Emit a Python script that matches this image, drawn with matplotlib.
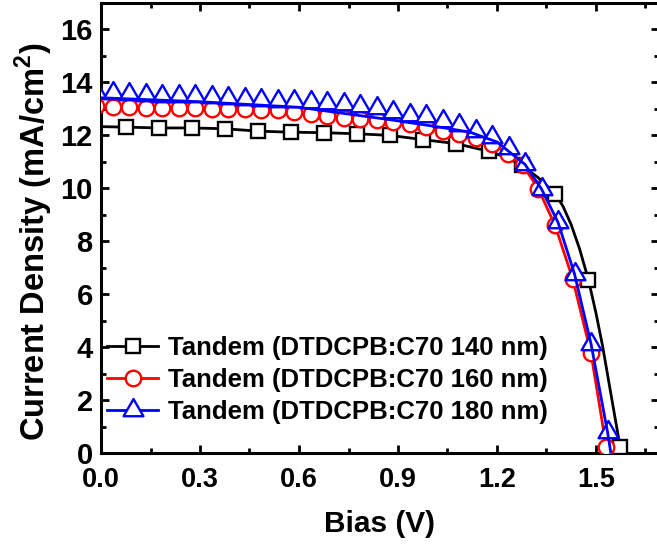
import numpy as np
import matplotlib
matplotlib.use("Agg")
import matplotlib.pyplot as plt
from matplotlib.path import Path
from matplotlib.lines import Line2D

plt.rcParams['font.family'] = ['Liberation Sans', 'DejaVu Sans']
plt.rcParams['font.weight'] = 'bold'
plt.rcParams['mathtext.fontset'] = 'custom'
plt.rcParams['mathtext.rm'] = 'Liberation Sans:bold'
plt.rcParams['mathtext.bf'] = 'Liberation Sans:bold'

labels = ["Tandem (DTDCPB:C70 140 nm)",
          "Tandem (DTDCPB:C70 160 nm)",
          "Tandem (DTDCPB:C70 180 nm)"]

# 140 nm (black) - markers
v140_m = [0.075, 0.175, 0.275, 0.375, 0.475, 0.575, 0.675, 0.775, 0.875, 0.975,
          1.075, 1.175, 1.275, 1.376, 1.477, 1.573]
j140_m = [12.31, 12.28, 12.28, 12.25, 12.16, 12.12, 12.10, 12.06, 12.00, 11.84,
          11.69, 11.40, 10.87, 9.80, 6.55, 0.24]
# 140 nm - line
v140_l = [0.0, 0.075, 0.175, 0.275, 0.375, 0.475, 0.575, 0.675, 0.775, 0.875, 0.975,
          1.075, 1.175, 1.225, 1.275, 1.325, 1.376, 1.40, 1.425, 1.45, 1.477, 1.50,
          1.52, 1.547, 1.573, 1.577]
j140_l = [12.33, 12.31, 12.28, 12.28, 12.25, 12.16, 12.12, 12.10, 12.06, 12.00, 11.84,
          11.69, 11.40, 11.18, 10.87, 10.40, 9.80, 9.32, 8.62, 7.72, 6.55, 5.28,
          4.04, 2.10, 0.24, 0.0]

# 160 nm (red)
v160 = [-0.015, 0.035, 0.085, 0.135, 0.185, 0.235, 0.285, 0.335, 0.385, 0.435,
        0.485, 0.535, 0.585, 0.635, 0.685, 0.735, 0.785, 0.835, 0.885, 0.935,
        0.985, 1.035, 1.085, 1.135, 1.185, 1.232, 1.278, 1.325, 1.376, 1.429,
        1.485, 1.531]
j160 = [13.10, 13.08, 13.08, 13.05, 13.04, 13.04, 13.03, 13.00, 13.00, 12.98,
        12.96, 12.94, 12.90, 12.82, 12.72, 12.67, 12.63, 12.58, 12.50, 12.42,
        12.31, 12.18, 12.05, 11.90, 11.68, 11.30, 10.87, 9.99, 8.60, 6.59,
        3.76, 0.24]

# 180 nm (blue) - markers
v180_m = [-0.015, 0.035, 0.085, 0.135, 0.185, 0.235, 0.285, 0.335, 0.385, 0.435,
          0.485, 0.535, 0.585, 0.635, 0.685, 0.735, 0.785, 0.835, 0.885, 0.935,
          0.985, 1.035, 1.085, 1.135, 1.185, 1.235, 1.285, 1.335, 1.385, 1.435,
          1.485, 1.535]
j180_m = [13.62, 13.60, 13.57, 13.53, 13.50, 13.48, 13.47, 13.44, 13.40, 13.38,
          13.35, 13.31, 13.29, 13.26, 13.22, 13.17, 13.11, 13.03, 12.90, 12.77,
          12.72, 12.55, 12.40, 12.16, 11.93, 11.52, 10.90, 9.97, 8.71, 6.76,
          4.12, 0.79]
# 180 nm - line
v180_l = [0.0, 0.3, 0.6, 0.876, 1.027, 1.118, 1.20, 1.285, 1.335, 1.385, 1.435,
          1.485, 1.535, 1.545]
j180_l = [13.42, 13.27, 13.06, 12.59, 12.31, 12.12, 11.75, 10.90, 9.97, 8.71, 6.76,
          4.12, 0.79, 0.0]

W, H = 657, 548
fig = plt.figure(figsize=(W / 100, H / 100), dpi=100)
xmax = 1.69
ax = fig.add_axes([101 / W, 95 / H, 330 * xmax / W, 450 / H])

# triangle with centroid at origin
tri = Path([(0, 2 / 3), (-0.577, -1 / 3), (0.577, -1 / 3), (0, 2 / 3)],
           [Path.MOVETO, Path.LINETO, Path.LINETO, Path.CLOSEPOLY])

lw = 2.0
mew = 1.7
styles = [dict(color='black', marker='s', ms=9.5),
          dict(color='red', marker='o', ms=11.2),
          dict(color='blue', marker=tri, ms=16.5)]

ax.plot(v140_l, j140_l, '-', color='black', lw=lw, zorder=2)
ax.plot(v140_m, j140_m, ls='none', marker='s', ms=9.5, mfc='white', mec='black', mew=mew, zorder=3)
ax.plot(v160, j160, '-', color='red', lw=lw, zorder=2)
ax.plot(v160, j160, ls='none', marker='o', ms=11.2, mfc='white', mec='red', mew=mew, zorder=3)
ax.plot(v180_l, j180_l, '-', color='blue', lw=lw, zorder=4)
ax.plot(v180_m, j180_m, ls='none', marker=tri, ms=16.5, mfc='white', mec='blue', mew=mew, zorder=3.5)

ax.set_xlim(0, xmax)
ax.set_ylim(0, 17)
ax.set_xticks(np.arange(0, 1.51, 0.3))
ax.set_xticks(np.arange(0.15, 1.69, 0.3), minor=True)
ax.set_yticks(np.arange(0, 17, 2))
ax.set_yticks(np.arange(1, 17, 2), minor=True)
ax.xaxis.set_major_formatter(matplotlib.ticker.FormatStrFormatter('%.1f'))
ax.tick_params(which='both', direction='in', top=True, right=True, width=2)
ax.tick_params(axis='x', pad=10, labelsize=19.5)
ax.tick_params(axis='y', pad=6, labelsize=21)
ax.tick_params(which='major', length=6)
ax.tick_params(which='minor', length=3.5)
for s in ax.spines.values():
    s.set_linewidth(2.2)

ax.set_xlabel('Bias (V)', fontsize=21.5, fontweight='bold', labelpad=12)
ax.set_ylabel('Current Density (mA/cm$^2$)', fontsize=23.5, fontweight='bold')
ax.yaxis.set_label_coords(-0.082, 0.47)

handles = [Line2D([], [], lw=lw, color=s['color'], marker=s['marker'], ms=s['ms'],
                  mfc='white', mec=s['color'], mew=mew) for s in styles]
leg = ax.legend(handles, labels, loc='lower left', bbox_to_anchor=(-0.016, 0.03),
                frameon=False, fontsize=18.5, handlelength=1.95, handletextpad=0.4,
                labelspacing=0.32, borderaxespad=0.2, numpoints=1)

fig.savefig('out.png', dpi=100)
